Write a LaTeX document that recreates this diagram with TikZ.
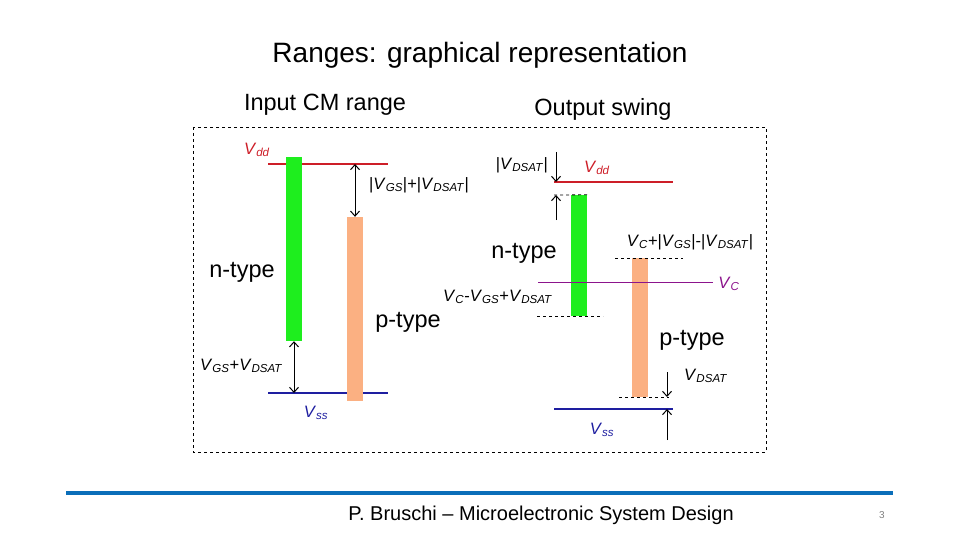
\documentclass[tikz,border=0pt]{standalone}
\usepackage{fontspec}
\setmainfont{Liberation Sans}
\usetikzlibrary{arrows.meta}

\definecolor{barN}{RGB}{30,238,30}
\definecolor{barP}{RGB}{251,176,130}
\definecolor{rail}{RGB}{205,30,40}
\definecolor{gnd}{RGB}{30,30,160}
\definecolor{midc}{RGB}{140,20,140}
\definecolor{foot}{RGB}{10,110,185}
\newcommand{\vsub}[2]{\textit{#1}\textsubscript{\textit{#2}}}

\begin{document}
\begin{tikzpicture}[x=1pt, y=-1pt, every node/.style={inner sep=0},
  lbl/.style={font=\fontsize{16.5}{18}\selectfont},
  bigtxt/.style={font=\fontsize{23.5}{26}\selectfont},
  nbar/.style={fill=barN, minimum width=16pt},
  pbar/.style={fill=barP, minimum width=16pt},
  lvl/.style={line width=1.2pt},
  dsh/.style={dashed, line width=0.8pt},
  arr/.style={-{Straight Barb[length=5pt,width=9pt]}, line width=1pt},
  darr/.style={{Straight Barb[length=5pt,width=9pt]}-{Straight Barb[length=5pt,width=9pt]}, line width=1pt}]
  \useasboundingbox (0,0) rectangle (960,540);

  \node[font=\fontsize{28}{30}\selectfont] (title) at (480,55) {Ranges: graphical representation};
  \node[bigtxt] (hin) at (325,105) {Input CM range};
  \node[bigtxt] (hout) at (603,109) {Output swing};
  \draw[dashed, line width=0.8pt] (193,127) rectangle (766,452);

  % input common mode range
  \coordinate (ddA) at (268,164); \coordinate (ddB) at (388,164);
  \coordinate (ssA) at (268,393); \coordinate (ssB) at (388,393);
  \draw[rail, lvl] (ddA) -- (ddB);
  \draw[gnd, lvl] (ssA) -- (ssB);
  \node[nbar, minimum height=184pt] (nL) at (294,249) {};
  \node[pbar, minimum height=184pt] (pL) at (355,309) {};
  \node[lbl, rail] (vddL) at (257,150) {\vsub{V}{dd}};
  \node[lbl, gnd] (vssL) at (316,413) {\vsub{V}{ss}};
  \draw[darr] (ddB -| pL) -- (pL.north);
  \draw[darr] (nL.south) -- (ssA -| nL);
  \node[lbl, anchor=west] (gsp) at (369,185) {|\vsub{V}{GS}|+|\vsub{V}{DSAT}|};
  \node[lbl, anchor=west] (gsn) at (200,366) {\vsub{V}{GS}+\vsub{V}{DSAT}};
  \node[bigtxt] (ntL) at (242,272) {n-type};
  \node[bigtxt] (ptL) at (408,322) {p-type};
  \node[lbl, anchor=west] (cmin) at (443,297) {\vsub{V}{C}-\vsub{V}{GS}+\vsub{V}{DSAT}};

  % output swing
  \coordinate (ddC) at (554,182); \coordinate (ddD) at (673,182);
  \coordinate (ssC) at (554,409); \coordinate (ssD) at (673,409);
  \coordinate (vcA) at (538,282); \coordinate (vcB) at (713,282);
  \draw[rail, lvl] (ddC) -- (ddD);
  \draw[gnd, lvl] (ssC) -- (ssD);
  \node[nbar, minimum height=121pt] (nR) at (579,255.5) {};
  \node[pbar, minimum height=139pt] (pR) at (640,327.5) {};
  \draw[midc, line width=1pt] (vcA) -- (vcB);
  \node[lbl, rail] (vddR) at (597,168) {\vsub{V}{dd}};
  \node[lbl, gnd] (vssR) at (602,430) {\vsub{V}{ss}};
  \node[lbl, midc] (vcR) at (729,284) {\vsub{V}{C}};

  \coordinate (t1) at (554,195); \coordinate (t2) at (537,316); \coordinate (t3) at (603,316);
  \coordinate (t4) at (615,258); \coordinate (t5) at (683,258);
  \coordinate (t6) at (619,397); \coordinate (t7) at (669,397);
  \draw[dsh] (t1) -- (nR.north east);
  \draw[dsh] (t2) -- (t3);
  \draw[dsh] (t4) -- (t5);
  \draw[dsh] (t6) -- (t7);

  \coordinate (a1) at (556,152); \coordinate (a2) at (556,220);
  \coordinate (a3) at (667,372); \coordinate (a4) at (667,440);
  \draw[arr] (a1) -- (a1 |- ddC);
  \draw[arr] (a2) -- (a2 |- t1);
  \draw[arr] (a3) -- (a3 |- t6);
  \draw[arr] (a4) -- (a4 |- ssC);

  \node[lbl, anchor=east] (dsatT) at (548,165) {|\vsub{V}{DSAT}|};
  \node[lbl, anchor=west] (dsatB) at (684,376) {\vsub{V}{DSAT}};
  \node[lbl] (cmax) at (690,242) {\vsub{V}{C}+|\vsub{V}{GS}|-|\vsub{V}{DSAT}|};
  \node[bigtxt] (ntR) at (524,253) {n-type};
  \node[bigtxt] (ptR) at (692,340) {p-type};

  % footer
  \draw[foot, line width=4pt] (66,493) -- (893,493);
  \node[font=\fontsize{20}{22}\selectfont] (credit) at (541,515) {P. Bruschi – Microelectronic System Design};
  \node[font=\fontsize{10}{12}\selectfont, gray] (page) at (882,515) {3};
\end{tikzpicture}
\end{document}
